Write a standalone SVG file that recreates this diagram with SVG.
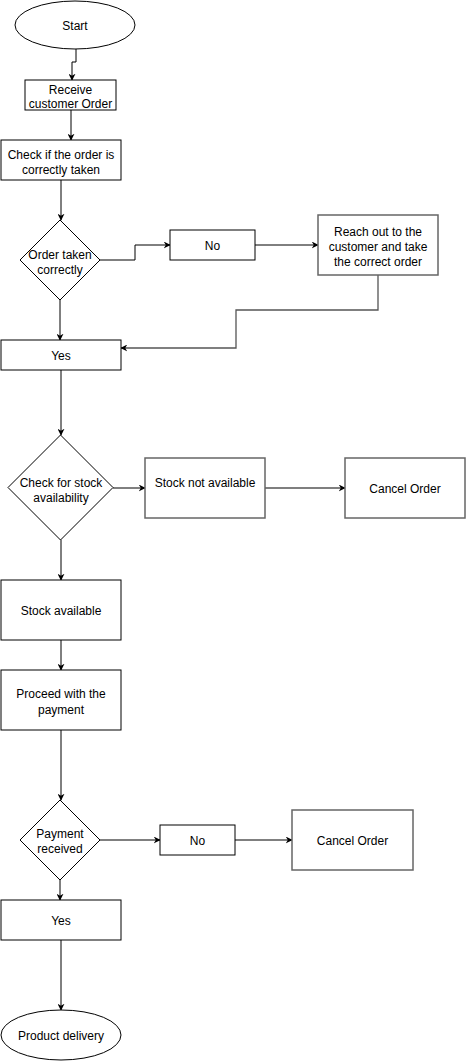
<svg xmlns="http://www.w3.org/2000/svg" width="466" height="1061" viewBox="0 0 466 1061">
<defs>
<style>
.n{fill:#fff;stroke:#000;stroke-width:1}
.g{fill:#fff;stroke:#666;stroke-width:1.5}
.t{font-family:"Liberation Sans",Arial,sans-serif;font-size:12px;fill:#000;text-anchor:middle}
.c{fill:none;stroke:#000;stroke-width:1}
.cg{fill:none;stroke:#555;stroke-width:1.3}
</style>
<marker id="a" viewBox="0 0 10 10" refX="9" refY="5" markerWidth="7" markerHeight="7" markerUnits="userSpaceOnUse" orient="auto">
<path d="M0,0 L10,5 L0,10 L3,5 Z" fill="#000"/>
</marker>
</defs>
<rect width="466" height="1061" fill="#fff"/>
<g id="connectors">
<path class="c" d="M76,49 V62 H72 V80" marker-end="url(#a)"/>
<path class="c" d="M71,110 V140" marker-end="url(#a)"/>
<path class="c" d="M61,180 V220" marker-end="url(#a)"/>
<path class="c" d="M100,260 H135 V245 H170" marker-end="url(#a)"/>
<path class="c" d="M255,245 H318" marker-end="url(#a)"/>
<path class="cg" d="M378,275 V310 H236 V348 H121" marker-end="url(#a)"/>
<path class="c" d="M60,300 V340" marker-end="url(#a)"/>
<path class="c" d="M61,370 V435" marker-end="url(#a)"/>
<path class="c" d="M113,488 H145" marker-end="url(#a)"/>
<path class="cg" d="M265,488 H345" marker-end="url(#a)"/>
<path class="c" d="M61,540 V580" marker-end="url(#a)"/>
<path class="c" d="M61,640 V670" marker-end="url(#a)"/>
<path class="c" d="M61,730 V800" marker-end="url(#a)"/>
<path class="c" d="M100,840 H160" marker-end="url(#a)"/>
<path class="c" d="M235,840 H292" marker-end="url(#a)"/>
<path class="c" d="M60,880 V900" marker-end="url(#a)"/>
<path class="c" d="M61,940 V1010" marker-end="url(#a)"/>
</g>
<g id="start"><ellipse class="n" cx="75" cy="25" rx="60" ry="24"/><text class="t" x="75" y="30">Start</text></g>
<g id="receive"><rect class="n" x="25" y="80" width="91" height="30"/><text class="t" x="70.5" y="94">Receive</text><text class="t" x="70.5" y="108">customer Order</text></g>
<g id="check"><rect class="n" x="1" y="140" width="120" height="40"/><text class="t" x="61" y="159">Check if the order is</text><text class="t" x="61" y="174">correctly taken</text></g>
<g id="d1"><polygon class="n" points="60,220 100,260 60,300 20,260"/><text class="t" x="60" y="259">Order taken</text><text class="t" x="60" y="274">correctly</text></g>
<g id="no1"><rect class="n" x="170" y="230" width="85" height="30"/><text class="t" x="212.5" y="250">No</text></g>
<g id="reach"><rect class="g" x="318" y="215" width="120" height="60"/><text class="t" x="378" y="236">Reach out to the</text><text class="t" x="378" y="251">customer and take</text><text class="t" x="378" y="266">the correct order</text></g>
<g id="yes1"><rect class="n" x="1" y="340" width="120" height="30"/><text class="t" x="61" y="360">Yes</text></g>
<g id="d2"><polygon class="n" points="60.5,435 113,487.5 60.5,540 8,487.5"/><text class="t" x="61" y="487">Check for stock</text><text class="t" x="61" y="502">availability</text></g>
<g id="notavail"><rect class="g" x="145" y="458" width="120" height="60"/><text class="t" x="205" y="487">Stock not available</text></g>
<g id="cancel1"><rect class="g" x="345" y="458" width="120" height="60"/><text class="t" x="405" y="493">Cancel Order</text></g>
<g id="avail"><rect class="n" x="1" y="580" width="120" height="60"/><text class="t" x="61" y="615">Stock available</text></g>
<g id="proceed"><rect class="n" x="1" y="670" width="120" height="60"/><text class="t" x="61" y="698">Proceed with the</text><text class="t" x="61" y="714">payment</text></g>
<g id="d3"><polygon class="n" points="60,800 100,840 60,880 20,840"/><text class="t" x="60" y="838">Payment</text><text class="t" x="60" y="853">received</text></g>
<g id="no2"><rect class="n" x="160" y="825" width="75" height="30"/><text class="t" x="197.5" y="845">No</text></g>
<g id="cancel2"><rect class="g" x="292" y="810" width="121" height="60"/><text class="t" x="352.5" y="845">Cancel Order</text></g>
<g id="yes2"><rect class="n" x="1" y="900" width="120" height="40"/><text class="t" x="61" y="925">Yes</text></g>
<g id="delivery"><ellipse class="n" cx="61" cy="1035" rx="60" ry="25"/><text class="t" x="61" y="1040">Product delivery</text></g>
</svg>
